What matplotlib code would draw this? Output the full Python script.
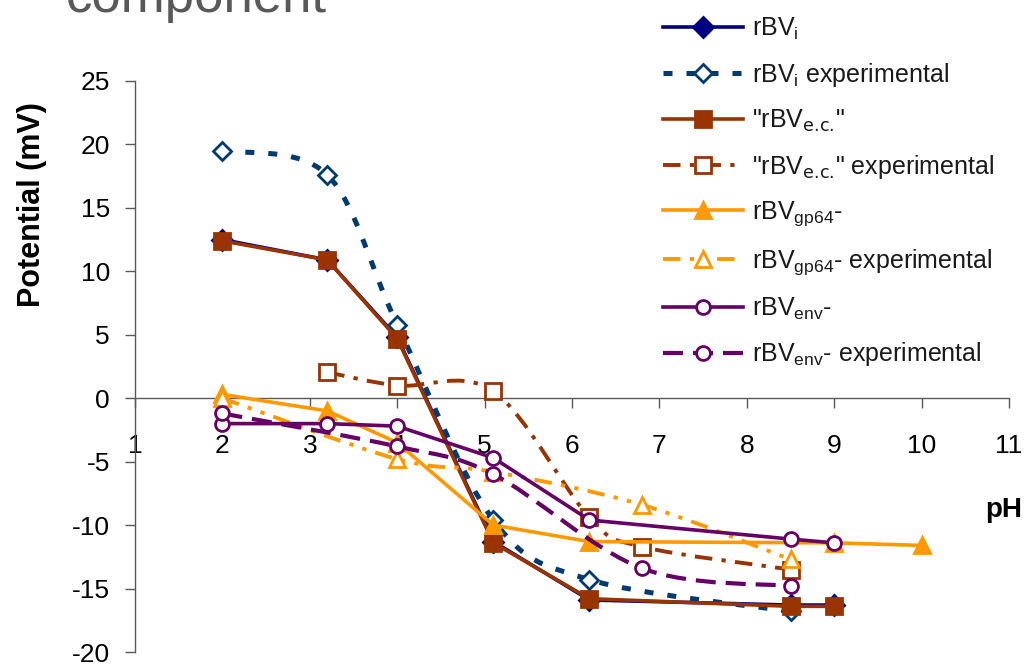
import matplotlib
matplotlib.use("Agg")
import matplotlib.pyplot as plt
from matplotlib.path import Path
from matplotlib.patches import PathPatch
from matplotlib.lines import Line2D
import numpy as np

plt.rcParams['font.family'] = ['Liberation Sans', 'DejaVu Sans']
plt.rcParams['mathtext.default'] = 'regular'
plt.rcParams['axes.unicode_minus'] = False

# ---- data -------------------------------------------------------------
ph_model = [2, 3.2, 4, 5.1, 6.2, 8.5, 9]
rbv_i = [12.5, 10.9, 4.8, -11.3, -15.9, -16.3, -16.3]
rbv_ec = [12.4, 10.9, 4.7, -11.4, -15.8, -16.4, -16.4]

ph_i_exp = [2, 3.2, 4, 5.1, 6.2, 8.5]
rbv_i_exp = [19.5, 17.6, 5.8, -9.6, -14.3, -16.8]

ph_ec_exp = [3.2, 4, 5.1, 6.2, 6.8, 8.5]
rbv_ec_exp = [2.05, 1.0, 0.55, -9.4, -11.7, -13.5]

ph_gp64 = [2, 3.2, 4, 5.1, 6.2, 9, 10]
rbv_gp64 = [0.3, -1.0, -3.5, -10.0, -11.3, -11.4, -11.6]

ph_gp64_exp = [2, 4, 5.1, 6.8, 8.5]
rbv_gp64_exp = [0.0, -4.8, -5.8, -8.4, -12.7]

ph_env = [2, 3.2, 4, 5.1, 6.2, 8.5, 9]
rbv_env = [-2.0, -2.0, -2.2, -4.7, -9.6, -11.1, -11.4]

ph_env_exp = [2, 4, 5.1, 6.8, 8.5]
rbv_env_exp = [-1.2, -3.8, -6.0, -13.4, -14.8]

x_ticks = list(range(1, 12))
y_ticks = list(range(-20, 30, 5))

labels = [
    r'rBV$_{i}$',
    r'rBV$_{i}$ experimental',
    r'"rBV$_{\text{e.c.}}$"',
    r'"rBV$_{\text{e.c.}}$" experimental',
    r'rBV$_{gp64}$-',
    r'rBV$_{gp64}$- experimental',
    r'rBV$_{env}$-',
    r'rBV$_{env}$- experimental',
]

NAVY = '#000080'
DBLUE = '#003a73'
BROWN = '#993300'
ORANGE = '#ff9900'
PURPLE = '#660066'

W, H = 1033, 664
fig = plt.figure(figsize=(W / 100, H / 100), dpi=100)
ax = fig.add_axes([135 / W, 1 - 652 / H, (1009 - 135) / W, (652 - 81) / H])
ax.set_xlim(1, 11)
ax.set_ylim(-20, 25)


def smooth_path(xs, ys):
    """Cubic Bezier path through the points (Catmull-Rom style smoothing)."""
    pts = np.column_stack([xs, ys]).astype(float)
    n = len(pts)
    verts = [pts[0]]
    codes = [Path.MOVETO]
    for i in range(n - 1):
        p0 = pts[i - 1] if i > 0 else pts[i]
        p1 = pts[i]
        p2 = pts[i + 1]
        p3 = pts[i + 2] if i + 2 < n else pts[i + 1]
        c1 = p1 + (p2 - p0) / 6.0
        c2 = p2 - (p3 - p1) / 6.0
        verts += [c1, c2, p2]
        codes += [Path.CURVE4] * 3
    return Path(verts, codes)


series = [
    dict(x=ph_model, y=rbv_i, color=NAVY, ls='-', lw=2.6, marker='D', ms=10,
         mfc=NAVY, smooth=False),
    dict(x=ph_i_exp, y=rbv_i_exp, color=DBLUE, ls=(0, (1.8, 2.8)), lw=3.6, marker='D',
         ms=9, mfc='white', smooth=True),
    dict(x=ph_model, y=rbv_ec, color=BROWN, ls='-', lw=2.6, marker='s', ms=11,
         mfc=BROWN, smooth=False),
    dict(x=ph_ec_exp, y=rbv_ec_exp, color=BROWN, ls=(0, (4.5, 2.4, 1.1, 2.4)), lw=2.8,
         marker='s', ms=11, mfc='white', smooth=True),
    dict(x=ph_gp64, y=rbv_gp64, color=ORANGE, ls='-', lw=2.6, marker='^', ms=11,
         mfc=ORANGE, smooth=False),
    dict(x=ph_gp64_exp, y=rbv_gp64_exp, color=ORANGE,
         ls=(0, (4.5, 2.4, 1.1, 2.4, 1.1, 2.4)), lw=2.8, marker='^', ms=11,
         mfc='white', smooth=True),
    dict(x=ph_env, y=rbv_env, color=PURPLE, ls='-', lw=2.6, marker='o', ms=10,
         mfc='white', smooth=False),
    dict(x=ph_env_exp, y=rbv_env_exp, color=PURPLE, ls=(0, (4.8, 2.4)), lw=3.0,
         marker='o', ms=10, mfc='white', smooth=True),
]

handles = []
for i, (s, lab) in enumerate(zip(series, labels)):
    z = 3 + i
    if s['smooth']:
        patch = PathPatch(smooth_path(s['x'], s['y']), facecolor='none',
                          edgecolor=s['color'], lw=s['lw'], linestyle=s['ls'],
                          capstyle='butt', zorder=z, clip_on=False)
        ax.add_patch(patch)
        ax.plot(s['x'], s['y'], linestyle='none', marker=s['marker'], ms=s['ms'],
                mfc=s['mfc'], mec=s['color'], mew=2, zorder=z + 0.5, clip_on=False)
    else:
        ax.plot(s['x'], s['y'], linestyle=s['ls'], color=s['color'], lw=s['lw'],
                marker=s['marker'], ms=s['ms'], mfc=s['mfc'], mec=s['color'], mew=2,
                zorder=z, clip_on=False)
    handles.append(Line2D([], [], linestyle=s['ls'], color=s['color'], lw=s['lw'],
                          marker=s['marker'], ms=s['ms'], mfc=s['mfc'],
                          mec=s['color'], mew=2, dash_capstyle='butt'))

# axes styling: y axis on the left, x axis crossing at zero
for side in ('top', 'right'):
    ax.spines[side].set_visible(False)
ax.spines['bottom'].set_position(('data', 0))
for side in ('left', 'bottom'):
    ax.spines[side].set_color('#595959')
    ax.spines[side].set_linewidth(1.0)

ax.set_xticks(x_ticks)
ax.set_yticks(y_ticks)
ax.tick_params(axis='x', direction='out', length=7, width=1, color='#595959',
               pad=19, labelsize=19)
ax.tick_params(axis='y', direction='out', length=7, width=1, color='#595959',
               pad=11, labelsize=19)

fig.text(32 / W, 1 - 205 / H, 'Potential (mV)', rotation=90, fontsize=22,
         fontweight='bold', ha='center', va='center')
fig.text(1004 / W, 1 - 510 / H, 'pH', fontsize=20, fontweight='bold',
         ha='center', va='center')
fig.text(66 / W, 1 - 12 / H, 'component', fontsize=38, color='#595959',
         ha='left', va='baseline')

fig.legend(handles, labels, loc='upper left',
           bbox_to_anchor=(663 / W, 1 - 16 / H), bbox_transform=fig.transFigure,
           frameon=False, fontsize=18, numpoints=1, handlelength=3.2,
           handletextpad=0.35, labelspacing=0.75, borderpad=0, borderaxespad=0,
           labelcolor='#1a1a1a')

fig.savefig('out.png', dpi=100)
